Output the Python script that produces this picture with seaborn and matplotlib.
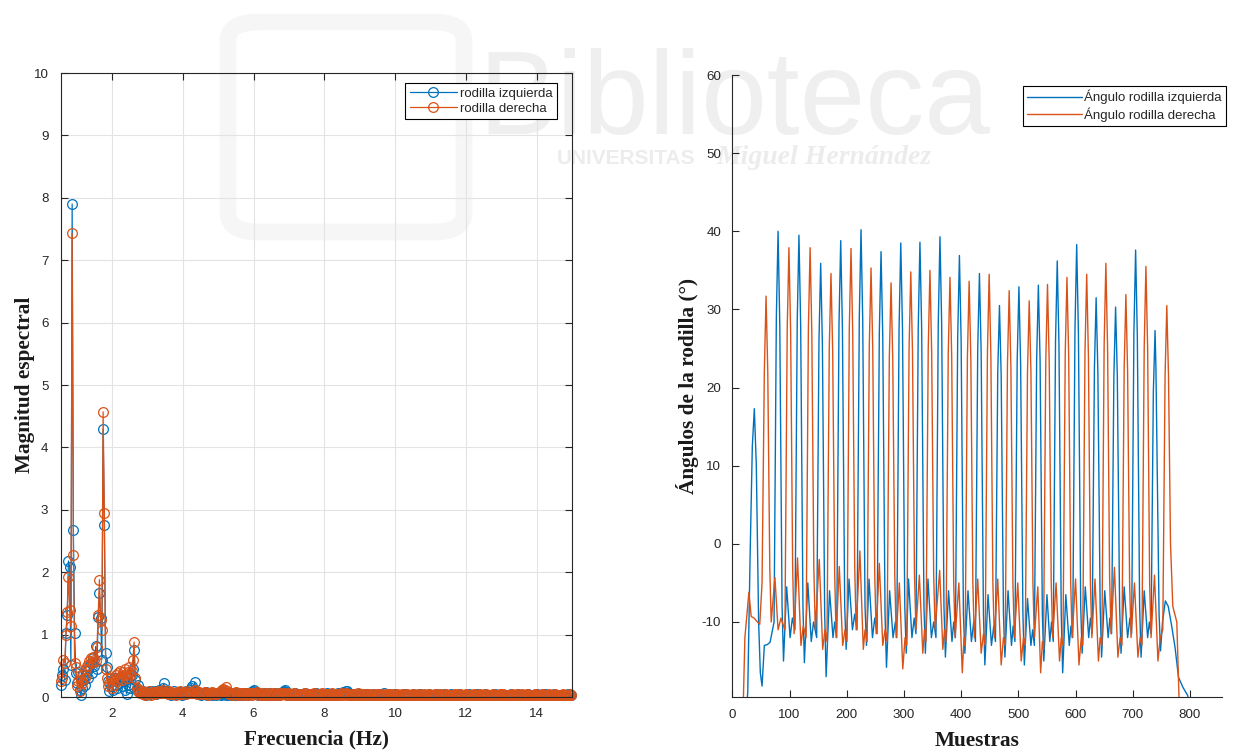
import numpy as np
import pandas as pd
import matplotlib
matplotlib.use("Agg")
import matplotlib.pyplot as plt
import seaborn as sns
from matplotlib.patches import FancyBboxPatch

# ---------------- data ----------------
BLUE = "#0072BD"
ORANGE = "#D95319"

fs_hz = 30.0
n_samples = 857
k_first, k_last = 16, 428          # FFT bins shown (0.56 Hz .. 15 Hz)

# spectral magnitude, bins 16..90 (0.56 - 3.15 Hz)
blue_low = [0.20, 0.35, 0.45, 0.28, 1.02, 1.31, 2.18, 2.09, 0.52, 7.90, 2.67, 1.02,
            0.38, 0.22, 0.40, 0.12, 0.03, 0.15, 0.28, 0.20, 0.35, 0.42, 0.30, 0.48,
            0.55, 0.38, 0.62, 0.50, 0.81, 0.45, 1.29, 1.67, 1.27, 0.60, 4.29, 2.76,
            0.70, 0.48, 0.25, 0.10, 0.18, 0.25, 0.12, 0.30, 0.20, 0.15, 0.28, 0.22,
            0.32, 0.18, 0.30, 0.25, 0.12, 0.05, 0.20, 0.30, 0.15, 0.35, 0.45, 0.75,
            0.27, 0.12, 0.20, 0.08, 0.10, 0.06, 0.09, 0.05, 0.07, 0.04, 0.08, 0.06,
            0.05, 0.09, 0.06]
orange_low = [0.25, 0.30, 0.60, 0.55, 1.00, 1.37, 1.93, 1.40, 1.13, 7.43, 2.28, 0.55,
              0.48, 0.18, 0.25, 0.10, 0.28, 0.22, 0.35, 0.30, 0.45, 0.50, 0.52, 0.58,
              0.62, 0.55, 0.64, 0.60, 0.58, 0.80, 1.31, 1.88, 1.23, 1.07, 4.57, 2.95,
              0.45, 0.30, 0.18, 0.22, 0.30, 0.15, 0.28, 0.20, 0.35, 0.25, 0.38, 0.30,
              0.42, 0.28, 0.40, 0.35, 0.45, 0.30, 0.40, 0.48, 0.35, 0.42, 0.60, 0.88,
              0.30, 0.15, 0.10, 0.12, 0.06, 0.09, 0.05, 0.08, 0.04, 0.07, 0.05, 0.09,
              0.06, 0.04, 0.07]
# spectral magnitude, bins 91..428 (3.19 - 15 Hz), in hundredths
blue_tail_c = [6, 9, 5, 8, 12, 7, 10, 14, 22, 9, 6, 8, 5, 7, 4, 6, 9, 5, 7, 6,
               5, 8, 6, 4, 7, 5, 9, 6, 8, 11, 14, 18, 12, 24, 10, 7, 5, 6, 4, 7,
               5, 6, 8, 4, 6, 5, 7, 4, 5, 6, 4, 7, 5, 6, 3, 5, 8, 6, 4, 5,
               6, 4, 5, 7, 3, 6, 4, 5, 6, 4, 5, 3, 6, 4, 7, 5, 4, 6, 8, 7,
               9, 12, 8, 6, 4, 5, 3, 5, 4, 6, 3, 5, 4, 6, 4, 3, 5, 4, 6, 3,
               5, 4, 6, 7, 8, 9, 11, 8, 6, 4, 3, 5, 4, 3, 6, 4, 5, 3, 4, 5,
               3, 4, 6, 3, 5, 4, 3, 5, 4, 3, 4, 6, 3, 5, 4, 3, 4, 5, 3, 4,
               6, 3, 4, 5, 3, 4, 3, 5, 4, 6, 5, 7, 6, 8, 7, 9, 10, 7, 5, 4,
               3, 4, 5, 3, 4, 3, 5, 4, 3, 4, 3, 5, 4, 3, 4, 3, 4, 5, 3, 4,
               4, 3, 5, 4, 3, 4, 6, 3, 4, 3, 5, 3, 4, 3, 4, 5, 3, 4, 3, 4,
               3, 4, 3, 5, 4, 3, 4, 3, 4, 5, 3, 4, 3, 4, 3, 5, 4, 3, 4, 3,
               4, 3, 5, 3, 4, 3, 4, 3, 5, 4, 3, 4, 3, 4, 5, 3, 4, 3, 4, 3,
               5, 4, 3, 4, 3, 4, 5, 3, 4, 3, 4, 3, 4, 3, 5, 4, 3, 4, 3, 4,
               3, 5, 4, 3, 4, 3, 4, 5, 3, 4, 3, 4, 3, 4, 3, 5, 4, 3, 4, 3,
               4, 5, 3, 4, 3, 4, 3, 4, 5, 3, 4, 3, 4, 3, 5, 4, 3, 4, 3, 4,
               3, 4, 5, 3, 4, 3, 4, 3, 4, 5, 3, 4, 3, 4, 3, 4, 5, 3, 4, 3,
               4, 3, 4, 5, 3, 4, 3, 4, 3, 4, 3, 4, 3, 4, 5, 3, 4, 3]
orange_tail_c = [8, 5, 7, 10, 6, 9, 7, 12, 8, 6, 7, 5, 9, 6, 8, 5, 7, 6, 4, 8,
                 6, 9, 5, 7, 6, 8, 5, 9, 7, 6, 8, 6, 9, 12, 7, 5, 8, 6, 7, 5,
                 6, 8, 5, 7, 4, 6, 5, 8, 6, 5, 7, 5, 6, 8, 9, 11, 13, 12, 16, 9,
                 6, 5, 7, 4, 6, 5, 8, 5, 4, 6, 5, 7, 4, 6, 5, 4, 6, 5, 7, 4,
                 6, 5, 7, 8, 5, 4, 6, 5, 4, 5, 6, 4, 5, 3, 6, 5, 4, 6, 5, 4,
                 5, 6, 4, 5, 7, 6, 5, 4, 6, 5, 4, 5, 3, 6, 4, 5, 4, 3, 5, 4,
                 5, 4, 6, 4, 5, 3, 4, 5, 4, 6, 4, 5, 4, 3, 5, 4, 6, 4, 5, 3,
                 4, 5, 3, 4, 6, 4, 5, 4, 3, 5, 4, 6, 5, 4, 5, 6, 4, 5, 4, 3,
                 5, 4, 3, 5, 4, 6, 4, 3, 5, 4, 4, 5, 4, 3, 5, 4, 3, 4, 5, 4,
                 3, 5, 4, 4, 3, 5, 4, 3, 4, 5, 4, 3, 5, 4, 3, 4, 5, 4, 3, 4,
                 5, 4, 3, 4, 5, 3, 4, 4, 3, 5, 4, 3, 4, 5, 4, 3, 4, 3, 5, 4,
                 3, 4, 5, 3, 4, 4, 3, 5, 4, 3, 4, 5, 3, 4, 3, 4, 5, 4, 3, 4,
                 3, 4, 4, 5, 3, 4, 3, 5, 4, 3, 4, 3, 5, 4, 3, 4, 4, 3, 5, 4,
                 3, 4, 3, 5, 4, 4, 3, 4, 5, 3, 4, 3, 4, 4, 5, 3, 4, 3, 4, 5,
                 3, 4, 5, 3, 4, 3, 4, 4, 3, 5, 4, 3, 4, 5, 3, 4, 3, 5, 4, 3,
                 4, 5, 3, 4, 3, 4, 4, 3, 5, 4, 3, 4, 3, 5, 4, 3, 4, 4, 3, 5,
                 4, 3, 4, 3, 5, 4, 3, 4, 4, 3, 5, 4, 3, 4, 3, 4, 5, 4]

# knee angle time series: keypoints (sample index, angle in degrees)
blue_samples = [20, 27, 31, 35, 38.5, 42, 46, 49, 52, 56, 61, 66, 73, 77, 80,
                83, 87, 89.5, 95, 101, 105, 109.5, 113.5, 116.5,
                119.5, 123.5, 126, 132, 138, 142, 147.5, 151.5, 154.5,
                157.5, 161.5, 164, 170, 176, 179, 182.5, 186.5, 189.5,
                192.5, 196.5, 199, 204, 210, 214, 218, 222, 225,
                228, 232, 234.5, 239, 245, 249, 253, 257, 260,
                263, 267, 269.5, 275, 281, 285, 287.5, 291.5, 294.5,
                297.5, 301.5, 304, 308, 314, 318, 321, 325, 328,
                331, 335, 337.5, 342, 348, 352, 356, 360, 363,
                366, 370, 372.5, 378, 384, 387, 390, 394, 397,
                400, 404, 406.5, 412, 418, 422, 425, 429, 432,
                435, 439, 441.5, 447, 453, 457, 460, 464, 467,
                470, 474, 476.5, 482, 488, 491, 494, 498, 501,
                504, 508, 510.5, 516, 522, 525, 528, 532, 535,
                538, 542, 544.5, 550, 555, 558, 561, 565, 568,
                571, 575, 577.5, 583, 589, 592, 595, 599, 602,
                605, 609, 611.5, 617, 623, 626, 629, 633, 636,
                639, 643, 645.5, 651, 657, 660, 663, 667, 670,
                673, 677, 679.5, 685, 691, 695, 698, 702, 705,
                708, 712, 714.5, 720, 726, 729, 732, 736, 739,
                740.5, 743.5, 746, 748.5, 752, 757, 762, 768, 774, 780, 788, 796, 800]
blue_angles = [-26, -19, -2, 12.5, 17.3, 10, -10, -16.5, -18.2, -13, -12.9, -12.6, -10, 29, 40.0,
               28, -8, -15, -5.5, -12, -9.5, -11, 28.5, 39.5,
               28, -8, -15.2, -5, -12.5, -10, -12, 26, 35.9,
               25.5, -9, -17, -6, -12, -10, -12, 28, 38.8,
               27.5, -8, -13.5, -4.5, -11, -9, -11, 29, 40.2,
               28.5, -8, -13, -4.5, -12, -9.5, -11.5, 27, 37.4,
               26.5, -9, -15.8, -6, -12, -10, -12, 27.5, 38.5,
               27.5, -8, -14, -4.5, -12, -9.5, -11.5, 27.5, 38.6,
               27.5, -8, -14, -4.5, -12, -10, -12, 28, 39.3,
               28, -8, -14.5, -6, -12.5, -10, -12, 26.5, 36.9,
               26, -9, -14, -6, -12.5, -10, -12.5, 25, 34.6,
               24.5, -9, -15.5, -6.5, -13, -10.5, -12.5, 22, 30.5,
               21.5, -9, -14.5, -6, -13, -10.5, -12.5, 23.5, 32.9,
               23, -9, -15.5, -7, -13, -11, -13, 23.5, 33.1,
               23.5, -9, -15, -6.5, -12.5, -10, -12.5, 26, 36.2,
               25.5, -9, -16.5, -6.5, -13, -10.5, -12, 27.5, 38.3,
               27, -8, -14, -5.5, -12, -9.5, -11.5, 22.5, 31.5,
               22, -8, -14.5, -6, -12, -9.5, -11.5, 21.5, 30.3,
               21.5, -8, -14, -5.5, -12, -9.5, -11.5, 27, 37.6,
               26.5, -8, -14.5, -6, -12, -10, -11.5, 19.5, 27.3,
               22.5, 5, -9, -13.7, -10, -7.3, -8, -10.5, -13.3, -17.1, -18.4, -19.4, -21]

orange_samples = [18, 22, 29, 33, 38, 44, 48, 52, 56, 59,
                  62, 65.5, 68, 74.5, 80, 85, 92, 96, 99,
                  102, 105.5, 108, 114, 120, 124, 129, 133, 136,
                  139, 142.5, 145, 152, 158, 162, 165.5, 169.5, 172.5,
                  175.5, 179, 181.5, 187, 193, 197, 200.5, 204.5, 207.5,
                  210.5, 214, 216.5, 223, 229, 232, 235.5, 239.5, 242.5,
                  245.5, 249, 251.5, 257, 263, 267, 270.5, 274.5, 277.5,
                  280.5, 284, 286.5, 292, 298, 302, 305, 309, 312,
                  315, 318.5, 321, 327, 333, 336, 338.5, 342.5, 345.5,
                  348.5, 352, 354.5, 362.5, 368, 371, 373.5, 377.5, 380.5,
                  383.5, 387, 389.5, 396, 402, 405, 407, 411, 414,
                  417, 420.5, 423, 429, 435, 439, 442, 446, 449,
                  452, 455.5, 458, 464, 470, 474, 477, 481, 484,
                  487, 490.5, 493, 499, 505, 509, 512, 516, 519,
                  522, 525.5, 528, 534, 539, 542, 544, 548, 551,
                  554, 557.5, 560, 566, 572, 575, 578, 582, 585,
                  588, 591.5, 594, 600, 606, 610, 612.5, 616.5, 619.5,
                  622.5, 626, 628.5, 634, 640, 643, 646, 650, 653,
                  656, 659.5, 662, 668, 674, 678, 681, 685, 688,
                  691, 694.5, 697, 703, 709, 713, 716, 720, 723,
                  726, 729.5, 732, 738, 744, 748, 752.5, 756.5, 759.5,
                  762.5, 766, 770, 777, 781, 785]
orange_angles = [-24, -12, -6.2, -9.3, -9.5, -10, -10.3, -5, 22, 31.7,
                 22, -3, -10, -4.3, -11, -9.5, -11, 27.5, 37.9,
                 27, -3, -11.5, -1.8, -13, -10.5, -12, 27.5, 37.9,
                 27, -3, -11, -2.0, -13.5, -11, -12.5, 25, 34.6,
                 24.5, -4, -12, -2.9, -13, -11, -12.5, 27.5, 37.8,
                 27, -3, -11, -0.9, -13.5, -11, -12.5, 25.5, 35.3,
                 25, -4, -11.5, -2.5, -13, -11, -12.5, 24, 33.4,
                 23.5, -4, -12, -5, -16, -12, -13, 25, 34.8,
                 24.5, -4, -11, -4, -14, -11, -12.5, 25, 35.0,
                 24.5, -4, -11, -3.4, -13.5, -11, -12.5, 24.5, 34.1,
                 24, -5, -12, -5, -16.5, -12, -13, 24, 33.6,
                 23.5, -5, -12, -4.5, -14, -11.5, -13, 24.5, 34.5,
                 24, -5, -12, -4.5, -15.5, -12, -13, 23, 32.4,
                 22.5, -5, -12, -5, -15, -12, -13, 22, 31.1,
                 22, -5, -12, -5.5, -16.5, -12.5, -13.5, 23.5, 33.2,
                 23, -5, -12, -5, -15, -12, -13, 24.5, 34.1,
                 24, -5, -12, -4.5, -15.5, -12, -13, 24.5, 34.5,
                 24, -5, -12, -4.5, -15, -12, -13, 25.5, 35.9,
                 25, -4, -11.5, -3, -14.5, -12, -13, 22.5, 31.9,
                 22, -5, -12, -5, -14.5, -12, -13, 25, 35.5,
                 25, -5, -12, -4, -15, -12, -11, 21.5, 30.5,
                 21.5, 0, -8, -10, -20, -26]

label_blue_fft = "rodilla izquierda"
label_orange_fft = "rodilla derecha"
label_blue_ang = "Ángulo rodilla izquierda"
label_orange_ang = "Ángulo rodilla derecha"

# ---------------- figure ----------------
sns.set_theme(style="white")
plt.rcParams['font.family'] = ['Liberation Sans', 'DejaVu Sans']
plt.rcParams['axes.unicode_minus'] = False

W, H = 1246, 750
fig = plt.figure(figsize=(W / 100, H / 100), dpi=100)
fig.patch.set_facecolor("white")


def fx(px):
    return px / W


def fy(py):
    return 1 - py / H


# faint watermark behind everything
wm = "#efefef"
fig.patches.append(FancyBboxPatch((fx(228), fy(232)), fx(236), fy(22) - fy(232),
                                  boxstyle="round,pad=0,rounding_size=0.025",
                                  transform=fig.transFigure, fill=False,
                                  edgecolor="#f6f6f6", linewidth=12, zorder=-2))
fig.text(fx(478), fy(134), "Biblioteca", fontsize=85, color=wm,
         family="Liberation Sans", ha="left", va="baseline", zorder=-2)
fig.text(fx(557), fy(164), "UNIVERSITAS", fontsize=15, color="#ececec",
         family="Liberation Sans", weight="bold", ha="left", va="baseline", zorder=-2)
fig.text(fx(716), fy(164), "Miguel Hernández", fontsize=20, color="#ececec",
         family="Liberation Serif", style="italic", weight="bold",
         ha="left", va="baseline", zorder=-2)

AX_COLOR = "#262626"
TICK_FS = 9.6
LABEL_FS = 15.3

# ---- left: spectrum ----
ax1 = fig.add_axes([fx(61), fy(697), fx(572) - fx(61), fy(73) - fy(697)])
ax1.set_facecolor("none")
freq = np.arange(k_first, k_last + 1) * fs_hz / n_samples
mag_blue = np.r_[blue_low, np.array(blue_tail_c) / 100.0]
mag_orange = np.r_[orange_low, np.array(orange_tail_c) / 100.0]

sns.lineplot(x=freq, y=mag_blue, ax=ax1, color=BLUE, linewidth=0.9,
             marker="o", markersize=7, markerfacecolor="none",
             markeredgecolor=BLUE, markeredgewidth=0.9,
             estimator=None, sort=False, label=label_blue_fft)
sns.lineplot(x=freq, y=mag_orange, ax=ax1, color=ORANGE, linewidth=0.9,
             marker="o", markersize=7, markerfacecolor="none",
             markeredgecolor=ORANGE, markeredgewidth=0.9,
             estimator=None, sort=False, label=label_orange_fft)
for ln in ax1.lines:
    ln.set_clip_on(False)

ax1.set_xlim(k_first * fs_hz / n_samples, 15)
ax1.set_ylim(0, 10)
ax1.set_xticks(np.arange(2, 15, 2))
ax1.set_yticks(np.arange(0, 11, 1))
ax1.grid(True, color="#e3e3e3", linewidth=0.8)
ax1.set_axisbelow(True)
for s in ax1.spines.values():
    s.set_visible(True)
    s.set_color(AX_COLOR)
    s.set_linewidth(0.8)
ax1.tick_params(direction="in", length=5, width=0.8, color=AX_COLOR,
                labelcolor=AX_COLOR, labelsize=TICK_FS,
                top=True, right=True, bottom=True, left=True)
ax1.tick_params(axis="y", pad=9)
ax1.tick_params(axis="x", pad=8)
ax1.set_xlabel("Frecuencia (Hz)", family="Liberation Serif", weight="bold",
               fontsize=LABEL_FS, color="#1a1a1a", labelpad=7)
ax1.set_ylabel("Magnitud espectral", family="Liberation Serif", weight="bold",
               fontsize=LABEL_FS, color="#1a1a1a", labelpad=-1)
leg1 = ax1.legend(loc="upper right", bbox_to_anchor=(1 - 15 / 511, 1 - 10 / 624),
                  borderaxespad=0, fancybox=False, framealpha=1, edgecolor="black",
                  fontsize=9.5, handlelength=3.6, handletextpad=0.2,
                  borderpad=0.35, labelspacing=0.2)
leg1.get_frame().set_linewidth(0.8)

# ---- right: knee angles ----
ax2 = fig.add_axes([fx(732.3), fy(697), fx(1222) - fx(732.3), fy(75) - fy(697)])
ax2.set_facecolor("none")
sns.lineplot(x=blue_samples, y=blue_angles, ax=ax2, color=BLUE, linewidth=1.0,
             estimator=None, sort=False, label=label_blue_ang)
sns.lineplot(x=orange_samples, y=orange_angles, ax=ax2, color=ORANGE, linewidth=1.0,
             estimator=None, sort=False, label=label_orange_ang)
ax2.set_xlim(0, 856)
ax2.set_ylim(-19.6, 60)
ax2.set_xticks(np.arange(0, 801, 100))
ax2.set_yticks(np.arange(-10, 61, 10))
ax2.grid(False)
for side in ("top", "right"):
    ax2.spines[side].set_visible(False)
for side in ("left", "bottom"):
    ax2.spines[side].set_color(AX_COLOR)
    ax2.spines[side].set_linewidth(0.8)
ax2.tick_params(direction="in", length=5, width=0.8, color=AX_COLOR,
                labelcolor=AX_COLOR, labelsize=TICK_FS,
                bottom=True, left=True)
ax2.tick_params(axis="y", pad=8)
ax2.tick_params(axis="x", pad=9)
ax2.set_xlabel("Muestras", family="Liberation Serif", weight="bold",
               fontsize=LABEL_FS, color="#1a1a1a", labelpad=7)
ax2.set_ylabel("Ángulos de la rodilla (°)", family="Liberation Serif", weight="bold",
               fontsize=LABEL_FS, color="#1a1a1a", labelpad=2)
leg2 = ax2.legend(loc="upper right", bbox_to_anchor=(1.008, 1 - 11 / 622),
                  borderaxespad=0, fancybox=False, framealpha=1, edgecolor="black",
                  fontsize=9.5, handlelength=4.2, handletextpad=0.15,
                  borderpad=0.3, labelspacing=0.2)
leg2.get_frame().set_linewidth(0.8)

fig.savefig("out.png", dpi=100, facecolor="white")
